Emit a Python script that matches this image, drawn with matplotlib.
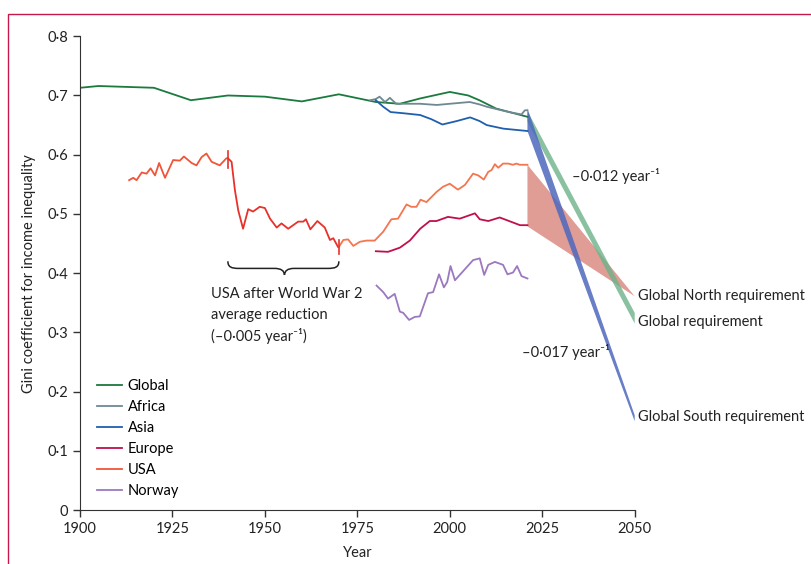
import matplotlib
matplotlib.use("Agg")
import matplotlib.pyplot as plt
from matplotlib.patches import Rectangle, PathPatch, Polygon
from matplotlib.path import Path
from matplotlib.ticker import FuncFormatter

plt.rcParams['font.family'] = ['Lato', 'DejaVu Sans']
plt.rcParams['font.size'] = 10.5

# ---- data ----
global_years = [1900, 1905, 1920, 1930, 1940, 1950, 1960, 1970, 1980, 1986.5, 1992, 2000, 2005, 2008, 2012.5, 2021]
global_vals = [0.713, 0.716, 0.713, 0.692, 0.700, 0.698, 0.690, 0.702, 0.689, 0.686, 0.695, 0.706, 0.700, 0.692, 0.678, 0.664]

africa_years = [1978.5, 1980, 1981, 1982.5, 1983.8, 1985.5, 1992, 1996.5, 2000, 2005.4, 2008, 2010, 2016, 2019.4, 2020.3, 2021]
africa_vals = [0.692, 0.694, 0.698, 0.689, 0.696, 0.686, 0.686, 0.684, 0.686, 0.689, 0.685, 0.681, 0.672, 0.668, 0.675, 0.675]

asia_years = [1980, 1982, 1984, 1987.5, 1992, 1995, 1998, 2002, 2005.5, 2008, 2010, 2014.5, 2021]
asia_vals = [0.692, 0.681, 0.672, 0.670, 0.667, 0.660, 0.651, 0.657, 0.663, 0.657, 0.650, 0.644, 0.640]

europe_years = [1980, 1983.3, 1986.5, 1989.2, 1992, 1994.6, 1996.4, 1999.5, 2002.7, 2006.8, 2008.1, 2010.4, 2013.5, 2019, 2021]
europe_vals = [0.437, 0.436, 0.443, 0.455, 0.475, 0.488, 0.488, 0.495, 0.492, 0.501, 0.491, 0.488, 0.494, 0.481, 0.481]

usa1_years = [1913.3, 1914.4, 1915.3, 1916.7, 1918, 1919.1, 1920.3, 1921.4, 1923, 1925.2, 1927, 1928.1, 1930.2,
              1931.5, 1932.9, 1934.2, 1935.6, 1937.8, 1939.6, 1940]
usa1_vals = [0.557, 0.561, 0.557, 0.570, 0.568, 0.577, 0.565, 0.586, 0.561, 0.591, 0.590, 0.597, 0.586,
             0.582, 0.596, 0.602, 0.588, 0.582, 0.594, 0.594]

usa2_years = [1940, 1941, 1941.9, 1942.8, 1944.1, 1945.5, 1946.8, 1948.6, 1950, 1951.4, 1953.2, 1954.5, 1956.3,
              1959, 1960.4, 1961.1, 1962.3, 1964.2, 1966.2, 1967.6, 1968.5, 1969.8, 1970]
usa2_vals = [0.594, 0.588, 0.540, 0.506, 0.475, 0.508, 0.504, 0.512, 0.510, 0.492, 0.477, 0.484, 0.475,
             0.487, 0.487, 0.491, 0.474, 0.488, 0.477, 0.456, 0.459, 0.444, 0.444]

usa3_years = [1970, 1971.2, 1972.5, 1973.9, 1975.7, 1977.5, 1979.7, 1982, 1984.2, 1986, 1988.3, 1989.6, 1991,
              1992.1, 1993.7, 1996.4, 1998.2, 2000, 2002.2, 2004.1, 2006.3, 2007.7, 2009.2, 2010.4, 2011.3,
              2012.2, 2013.1, 2014.4, 2015.8, 2017.1, 2018, 2018.9, 2021]
usa3_vals = [0.444, 0.456, 0.457, 0.446, 0.453, 0.455, 0.455, 0.470, 0.491, 0.492, 0.516, 0.512, 0.512,
             0.524, 0.520, 0.537, 0.546, 0.551, 0.541, 0.549, 0.568, 0.565, 0.558, 0.571, 0.574,
             0.584, 0.578, 0.585, 0.585, 0.583, 0.585, 0.583, 0.583]

norway_years = [1980.2, 1982, 1983.3, 1985.1, 1986.5, 1987.4, 1989, 1990.5, 1991.9, 1994.1, 1995.5, 1997.1,
                1998.4, 1999.3, 2000.2, 2001.4, 2006.3, 2008.1, 2009.3, 2010.4, 2012.2, 2014.4, 2015.6,
                2017.1, 2018.2, 2019.4, 2021]
norway_vals = [0.379, 0.368, 0.357, 0.365, 0.335, 0.333, 0.321, 0.326, 0.327, 0.366, 0.368, 0.398,
               0.376, 0.385, 0.412, 0.388, 0.422, 0.425, 0.397, 0.414, 0.419, 0.414, 0.398,
               0.401, 0.412, 0.395, 0.391]

# requirement wedges (year, value)
north_pts = [(2021, 0.583), (2050, 0.361), (2021, 0.479)]
global_req_pts = [(2021, 0.674), (2050, 0.333), (2050, 0.315), (2021, 0.656)]
south_pts = [(2021, 0.678), (2050, 0.160), (2050, 0.150), (2021, 0.640)]

c_global = '#1b7a3e'
c_africa = '#6f8992'
c_asia = '#1f5fad'
c_europe = '#c0104a'
c_usa = '#f0553a'
c_usa_war = '#e8312a'
c_usa_late = '#f47650'
c_norway = '#9b78bf'

fig = plt.figure(figsize=(8.11, 5.64), dpi=100)
ax = fig.add_axes([0.0986, 0.0957, 0.684, 0.840])

lw = 1.3
ax.add_patch(Polygon(north_pts, closed=True, facecolor='#d3776e', alpha=0.72, edgecolor='none'))
ax.add_patch(Polygon(global_req_pts, closed=True, facecolor='#6db289', alpha=0.8, edgecolor='none'))
ax.add_patch(Polygon(south_pts, closed=True, facecolor='#4d67bd', alpha=0.85, edgecolor='none'))

ax.plot(global_years, global_vals, color=c_global, lw=lw, label='Global')
ax.plot(africa_years, africa_vals, color=c_africa, lw=lw, label='Africa')
ax.plot(asia_years, asia_vals, color=c_asia, lw=lw, label='Asia')
ax.plot(europe_years, europe_vals, color=c_europe, lw=lw, label='Europe')
ax.plot(usa1_years, usa1_vals, color=c_usa, lw=lw, label='USA')
ax.plot(usa2_years, usa2_vals, color=c_usa_war, lw=lw)
ax.plot(usa3_years, usa3_vals, color=c_usa_late, lw=lw)
ax.plot(norway_years, norway_vals, color=c_norway, lw=lw, label='Norway')

# break marks on the USA series
ax.plot([1940, 1940], [0.577, 0.606], color=c_usa_war, lw=1.2)
ax.plot([1970, 1970], [0.432, 0.456], color=c_usa_war, lw=1.2)

# curly brace for post-war period
verts = [(1940, 0.420), (1940, 0.410), (1941, 0.408), (1943, 0.408),
         (1952.5, 0.408),
         (1954.5, 0.408), (1955.2, 0.404), (1955.3, 0.397),
         (1955.4, 0.404), (1956.1, 0.408), (1958, 0.408),
         (1967, 0.408),
         (1969, 0.408), (1970, 0.410), (1970, 0.420)]
codes = [Path.MOVETO, Path.CURVE4, Path.CURVE4, Path.CURVE4,
         Path.LINETO,
         Path.CURVE4, Path.CURVE4, Path.CURVE4,
         Path.CURVE4, Path.CURVE4, Path.CURVE4,
         Path.LINETO,
         Path.CURVE4, Path.CURVE4, Path.CURVE4]
ax.add_patch(PathPatch(Path(verts, codes), facecolor='none', edgecolor='#222222', lw=1.1))

ax.text(1935.4, 0.365, 'USA after World War 2', va='center', ha='left', color='#222222')
ax.text(1935.4, 0.329, 'average reduction', va='center', ha='left', color='#222222')
ax.text(1935.4, 0.294, '(–0·005 year⁻¹)', va='center', ha='left', color='#222222')

ax.text(2033.0, 0.564, '–0·012 year⁻¹', va='center', ha='left', color='#222222')
ax.text(2019.5, 0.267, '–0·017 year⁻¹', va='center', ha='left', color='#222222')
ax.text(2050.8, 0.361, 'Global North requirement', va='center', ha='left', color='#222222', clip_on=False)
ax.text(2050.8, 0.317, 'Global requirement', va='center', ha='left', color='#222222', clip_on=False)
ax.text(2050.8, 0.157, 'Global South requirement', va='center', ha='left', color='#222222', clip_on=False)

ax.set_xlim(1900, 2050)
ax.set_ylim(0, 0.8)
ax.set_xticks([1900, 1925, 1950, 1975, 2000, 2025, 2050])
ax.set_yticks([0, 0.1, 0.2, 0.3, 0.4, 0.5, 0.6, 0.7, 0.8])
ax.yaxis.set_major_formatter(FuncFormatter(lambda v, p: '0' if v == 0 else f'{v:.1f}'.replace('.', '·')))
ax.tick_params(direction='out', length=5, width=1, color='#333333', labelcolor='#222222')
for s in ['top', 'right']:
    ax.spines[s].set_visible(False)
for s in ['left', 'bottom']:
    ax.spines[s].set_color('#333333')
ax.set_xlabel('Year', color='#222222', labelpad=7)
ax.set_ylabel('Gini coefficient for income inequality', color='#222222', labelpad=8)

ax.legend(loc='upper left', bbox_to_anchor=(0.031, 0.277), frameon=False, borderaxespad=0, borderpad=0,
          handlelength=1.7, handletextpad=0.4, labelspacing=0.48)

fig.patches.append(Rectangle((8 / 811, -0.05), 1.2, 1 - 14 / 564 + 0.05, transform=fig.transFigure,
                             fill=False, edgecolor='#c8174a', lw=1))

fig.savefig('out.png', dpi=100)
